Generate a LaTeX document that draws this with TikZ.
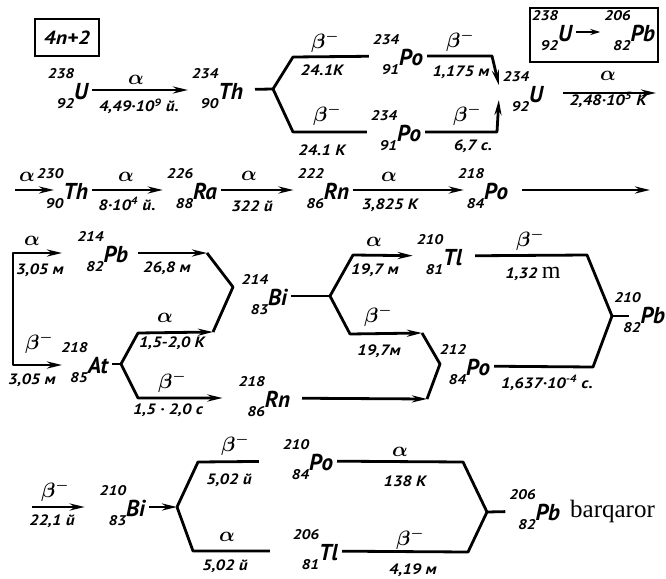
\documentclass[tikz,border=0pt]{standalone}
\usepackage{fontspec}
\usepackage{bm}
\setmainfont{PT Sans}
\newfontfamily\handfont[FakeStretch=1.15]{PT Sans}
\newfontfamily\elemfont{PT Sans}
\newfontfamily\printfont{Liberation Serif}
\usetikzlibrary{arrows.meta}

\newcommand{\numfont}{\handfont\bfseries\itshape\fontsize{14}{16}\selectfont}
\newcommand{\symfont}{\elemfont\bfseries\itshape\fontsize{23}{25}\selectfont}
\newcommand{\labfont}{\handfont\bfseries\itshape\fontsize{15}{17}\selectfont}
\newcommand{\nuc}[3]{\begin{tabular}{@{}r@{}}#1\\[14pt]#2\end{tabular}\hspace{0pt}\raisebox{-6pt}{\symfont #3}}
\newcommand{\dalpha}{$\bm{\alpha}$}
\newcommand{\dbeta}{$\bm{\beta^{-}}$}

\begin{document}
\begin{tikzpicture}[x=1pt,y=-1pt,
    nuc/.style={font=\numfont, inner sep=0pt, outer sep=4pt, anchor=east},
    lab/.style={font=\labfont, inner sep=0pt},
    grk/.style={font=\fontsize{20}{22}\selectfont, inner sep=0pt},
    ln/.style={line width=2.8pt, line join=round},
    arr/.style={ln, -{Stealth[length=15pt,width=7pt]}},
    dbl/.style={ln, {Stealth[length=15pt,width=7pt]}-{Stealth[length=15pt,width=7pt]}},
    box/.style={draw, line width=2pt, inner sep=0pt}]
    \useasboundingbox (0,0) rectangle (666,578);

    % boxes
    \node[box, minimum width=64pt, minimum height=37pt, font=\handfont\bfseries\itshape\fontsize{19}{21}\selectfont] (series) at (67,38) {4n+2};
    \node[box, minimum width=128pt, minimum height=54pt] (chain) at (594,35) {};
    \node[nuc] (u238b) at (576,32) {\nuc{238}{92}{U}};
    \node[nuc] (pb206b) at (659,32) {\nuc{206}{82}{Pb}};
    \draw[line width=2pt, -{Stealth[length=10pt,width=6pt]}] (u238b) -- (pb206b);

    % row 1
    \node[nuc] (u238) at (92,90) {\nuc{238}{92}{U}};
    \node[nuc] (th234) at (247,90) {\nuc{234}{90}{Th}};
    \node[nuc] (pa1) at (427,56) {\nuc{234}{91}{Po}};
    \node[nuc] (pa2) at (425,132) {\nuc{234}{91}{Po}};
    \node[nuc] (u234) at (547,93) {\nuc{234}{92}{U}};
    \coordinate (thb) at (273,89);
    \coordinate (pac1) at (492,56);
    \coordinate (pac2) at (497,132);
    \coordinate (r1e) at (656,93);
    \draw[arr] (u238) -- (th234);
    \draw[ln, shorten <=8pt] (th234) -- (thb);
    \draw[ln] (thb) -- ++(20,-32) -- (pa1);
    \draw[ln] (thb) -- ++(20,43) -- (pa2);
    \draw[arr] (pa1) -- (pac1) -- ([yshift=8pt]u234.west);
    \draw[arr] (pa2) -- (pac2) -- ([yshift=-7pt]u234.west);
    \draw[arr, shorten <=16pt] (u234) -- (r1e);
    \node[grk] (l1a) at (136,80) {\dalpha};
    \node[lab] (l1b) at (139,106) {4,49·10\textsuperscript{9} й.};
    \node[grk] (l2a) at (325,42) {\dbeta};
    \node[lab] (l2b) at (322,70) {24.1К};
    \node[grk] (l3a) at (327,115) {\dbeta};
    \node[lab] (l3b) at (322,150) {24.1 К};
    \node[grk] (l4a) at (460,41) {\dbeta};
    \node[lab] (l4b) at (461,72) {1,175 м};
    \node[grk] (l5a) at (467,115) {\dbeta};
    \node[lab] (l5b) at (473,146) {6,7 с.};
    \node[grk] (l6a) at (608,76) {\dalpha};
    \node[lab] (l6b) at (608,100) {2,48·10\textsuperscript{5} К};

    % row 2
    \coordinate (r2s) at (15,190);
    \coordinate (r2e) at (54,190);
    \coordinate (r2f) at (650,190);
    \node[nuc] (th230) at (92,190) {\nuc{230}{90}{Th}};
    \node[nuc] (ra226) at (221,190) {\nuc{226}{88}{Ra}};
    \node[nuc] (rn222) at (353,190) {\nuc{222}{86}{Rn}};
    \node[nuc] (po218) at (512,190) {\nuc{218}{84}{Po}};
    \draw[arr] (r2s) -- (r2e);
    \draw[arr] (th230) -- (ra226);
    \draw[arr] (ra226) -- (rn222);
    \draw[arr, shorten >=-10pt] (rn222) -- (po218);
    \draw[arr, shorten <=10pt] (po218) -- (r2f);
    \node[grk] (l7a) at (27,177) {\dalpha};
    \node[grk] (l8a) at (126,177) {\dalpha};
    \node[lab] (l8b) at (127,204) {8·10\textsuperscript{4} й.};
    \node[grk] (l9a) at (249,176) {\dalpha};
    \node[lab] (l9b) at (252,206) {322 й};
    \node[grk] (l10a) at (389,177) {\dalpha};
    \node[lab] (l10b) at (390,205) {3,825 К};

    % row 3
    \node[nuc] (pb214) at (132,253) {\nuc{214}{82}{Pb}};
    \node[nuc] (at218) at (112,364) {\nuc{218}{85}{At}};
    \node[nuc] (bi214) at (291,296) {\nuc{214}{83}{Bi}};
    \node[nuc] (rn218) at (294,398) {\nuc{218}{86}{Rn}};
    \node[nuc] (tl210) at (466,256) {\nuc{210}{81}{Tl}};
    \node[nuc] (po212) at (494,366) {\nuc{212}{84}{Po}};
    \node[nuc] (pb210) at (669,314) {\nuc{210}{82}{Pb}};
    \coordinate (pbin) at (62,253);
    \coordinate (atin) at (62,365);
    \coordinate (bi1a) at (207,253);
    \coordinate (bi1v) at (233,287);
    \coordinate (bi1b) at (213,332);
    \coordinate (atb) at (121,364);
    \coordinate (bib) at (330,296);
    \coordinate (po2a) at (422,333);
    \coordinate (po2v) at (440,364);
    \coordinate (po2b) at (427,399);
    \coordinate (tlc) at (587,255);
    \coordinate (poc) at (593,367);
    \coordinate (pbv) at (612,316);
    \coordinate (pbs) at (629,316);
    \draw[dbl] (pbin) -- ++(-49,0) |- (atin);
    \draw[arr, shorten <=6pt] (pb214) -- (bi1a);
    \draw[ln] (bi1a) -- (bi1v) -- (bi1b);
    \draw[ln] (at218) -- (atb);
    \draw[arr] (atb) -- ++(17,-31) -- (bi1b);
    \draw[arr, shorten >=12pt] (atb) -- ++(17,34) -- (rn218);
    \draw[ln] (bi214) -- (bib);
    \draw[arr] (bib) -- ++(23,-41) -- (tl210);
    \draw[arr] (bib) -- ++(20,38) -- (po2a);
    \draw[ln] (po2a) -- (po2v) -- (po2b);
    \draw[arr, shorten <=8pt] (rn218) -- (po2b);
    \draw[ln, shorten <=9pt] (tl210) -- (tlc) -- (pbv);
    \draw[ln] (po212) -- (poc) -- (pbv);
    \draw[ln] (pbv) -- (pbs);
    \node[grk] (l11a) at (32,241) {\dalpha};
    \node[lab] (l11b) at (40,270) {3,05 м};
    \node[grk] (l12a) at (39,343) {\dbeta};
    \node[lab] (l12b) at (32,380) {3,05 м};
    \node[lab] (l13b) at (167,268) {26,8 м};
    \node[grk] (l14a) at (165,318) {\dalpha};
    \node[lab] (l14b) at (172,343) {1,5-2,0 К};
    \node[grk] (l15a) at (172,382) {\dbeta};
    \node[lab] (l15b) at (168,410) {1,5 · 2,0 с};
    \node[grk] (l16a) at (374,242) {\dalpha};
    \node[lab] (l16b) at (375,270) {19,7 м};
    \node[grk] (l17a) at (378,316) {\dbeta};
    \node[lab] (l17b) at (379,351) {19,7м};
    \node[grk] (l18a) at (530,240) {\dbeta};
    \node[lab] (l18b) at (533,274) {1,32 {\printfont\mdseries\upshape\fontsize{24}{26}\selectfont m}};
    \node[lab] (l19b) at (547,383) {1,637·10\textsuperscript{-4} с.};

    % row 4
    \node[nuc] (bi210) at (149,507) {\nuc{210}{83}{Bi}};
    \node[nuc] (po210) at (337,461) {\nuc{210}{84}{Po}};
    \node[nuc] (tl206) at (342,551) {\nuc{206}{81}{Tl}};
    \node[nuc] (pb206) at (564,511) {\nuc{206}{82}{Pb}};
    \node[anchor=west, inner sep=0pt, font=\printfont\fontsize{25}{27}\selectfont] (bq) at (570,511) {barqaror};
    \coordinate (r5s) at (32,507);
    \coordinate (bib2) at (177,507);
    \coordinate (bic1) at (198,462);
    \coordinate (bic2) at (193,551);
    \coordinate (poc2) at (463,462);
    \coordinate (tlc2) at (468,552);
    \coordinate (pbv2) at (487,512);
    \draw[arr, shorten >=11pt] (r5s) -- (bi210);
    \draw[arr] (bi210) -- (bib2);
    \draw[ln, shorten >=20pt] (bib2) -- (bic1) -- (po210);
    \draw[ln, shorten >=19pt] (bib2) -- (bic2) -- (tl206);
    \draw[ln] (po210) -- (poc2) -- (pbv2);
    \draw[ln] (tl206) -- (tlc2) -- (pbv2);
    \draw[ln] (pbv2) -- (pb206);
    \node[grk] (l20a) at (55,491) {\dbeta};
    \node[lab] (l20b) at (52,521) {22,1 й};
    \node[grk] (l21a) at (235,445) {\dbeta};
    \node[lab] (l21b) at (229,480) {5,02 й};
    \node[grk] (l22a) at (227,537) {\dalpha};
    \node[lab] (l22b) at (225,566) {5,02 й};
    \node[grk] (l23a) at (400,452) {\dalpha};
    \node[lab] (l23b) at (405,481) {138 К};
    \node[grk] (l24a) at (410,539) {\dbeta};
    \node[lab] (l24b) at (413,570) {4,19 м};
\end{tikzpicture}
\end{document}
